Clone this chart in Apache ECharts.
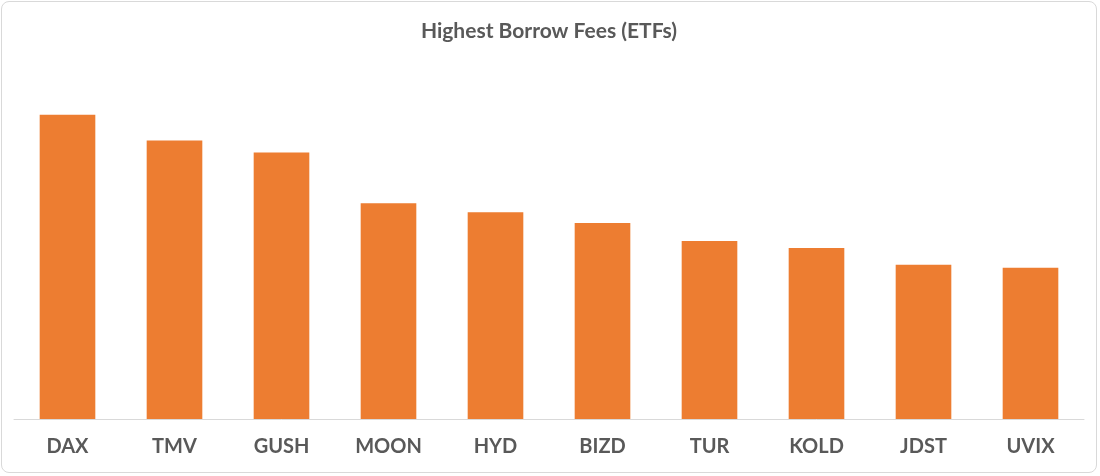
<!DOCTYPE html>
<html>
<head>
<meta charset="utf-8">
<script src="https://cdn.jsdelivr.net/npm/echarts@6/dist/echarts.min.js"></script>
<style>
  html, body { margin: 0; padding: 0; background: #fff; }
  #main { position: absolute; left: 1px; top: 1px; width: 1096px; height: 472px;
          border: 1px solid #d9d9d9; border-radius: 8px; box-sizing: border-box; }
</style>
</head>
<body>
<div id="main"></div>
<script>
// tickers and estimated relative fee levels
var categories = ['DAX', 'TMV', 'GUSH', 'MOON', 'HYD', 'BIZD', 'TUR', 'KOLD', 'JDST', 'UVIX'];
var fees = [306, 280, 268, 217, 208, 197, 179, 172, 155, 152];

var myChart = echarts.init(document.getElementById('main'));
myChart.setOption({
    title: {
        text: 'Highest Borrow Fees (ETFs)',
        left: 'center',
        top: 14,
        textStyle: { fontFamily: 'Lato', fontSize: 21, fontWeight: 'bold', color: '#595959' }
    },
    grid: { left: 12, right: 12, top: 59, bottom: 53 },
    xAxis: {
        type: 'category',
        data: categories,
        axisLine: { lineStyle: { color: '#d9d9d9' } },
        axisTick: { show: false },
        axisLabel: { fontFamily: 'Lato', fontSize: 20, fontWeight: 'bold', color: '#595959', margin: 18 }
    },
    yAxis: {
        type: 'value',
        min: 0,
        max: 360,
        show: false,
        splitLine: { show: false }
    },
    series: [{
        type: 'bar',
        data: fees,
        barWidth: '52%',
        itemStyle: { color: '#ED7D31' }
    }]
});
</script>
</body>
</html>
